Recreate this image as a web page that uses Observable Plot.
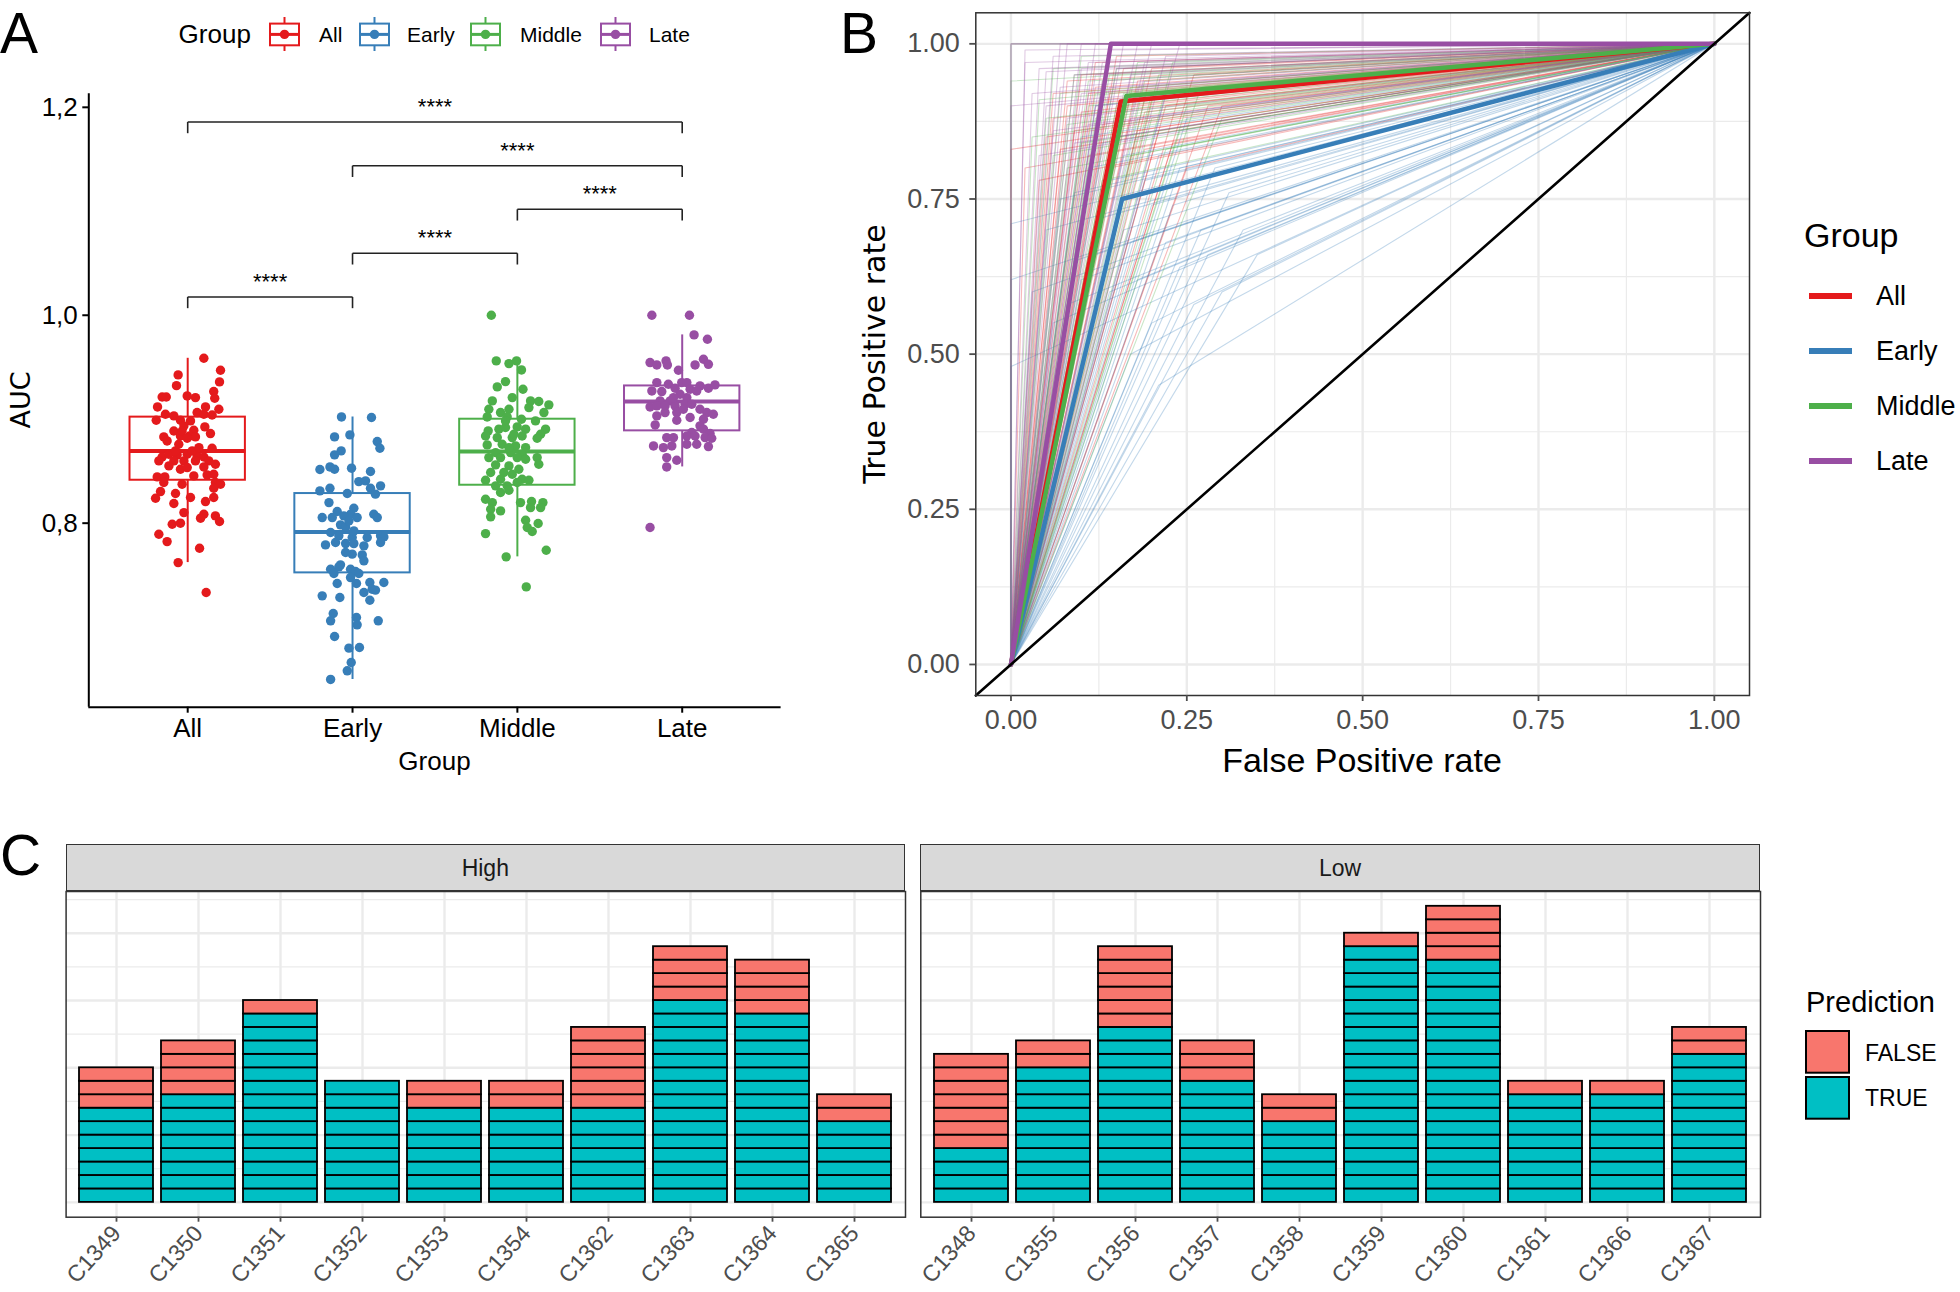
<!DOCTYPE html>
<html><head><meta charset="utf-8">
<script src="https://cdn.jsdelivr.net/npm/d3@7"></script>
<script src="https://cdn.jsdelivr.net/npm/@observablehq/plot@0.6"></script>
<style>
body{margin:0;background:#fff;}
#root{position:relative;width:1960px;height:1292px;overflow:hidden;font-family:"Liberation Sans",Arial,sans-serif;background:#fff;}
.t{position:absolute;white-space:nowrap;line-height:1;}
</style></head><body><div id="root"></div>
<script>
// ---------------- DATA ----------------
const groups = ["All","Early","Middle","Late"];
const groupColors = ["#E41A1C","#377EB8","#4DAF4A","#984EA3"];

// Panel A: AUC per model (jitter offsets in category units)
const aucAll = [0.9586,0.9471,0.9426,0.9359,0.9323,0.9266,0.9202,0.9214,0.9214,0.9224,
0.9208,0.9118,0.9118,0.9096,0.9064,0.9048,0.9032,0.9048,0.9041,0.8990,
0.8990,0.8984,0.8936,0.8926,0.8887,0.8894,0.8830,0.8839,0.8839,0.8830,
0.8862,0.8791,0.8721,0.8637,0.8663,0.8657,0.8663,0.8647,0.8637,0.8599,
0.8599,0.8599,0.8599,0.8599,0.8567,0.8519,0.8541,0.8445,0.8445,0.8455,
0.8464,0.8471,0.8391,0.8375,0.8391,0.8375,0.8336,0.8304,0.8285,0.8247,
0.8240,0.8247,0.8189,0.8208,0.8102,0.8086,0.8048,0.8070,0.8016,0.7990,
0.8000,0.7894,0.7823,0.7759,0.7621,0.7333,0.8887,0.8817,0.8695,0.8695,
0.8551,0.8727,0.8535,0.8759];
const jitAll = [0.098,0.199,-0.058,0.193,-0.068,0.158,0.164,-0.155,-0.130,-0.003,
0.047,-0.183,0.108,0.189,0.057,-0.135,-0.084,0.098,0.148,-0.191,
-0.044,0.017,-0.023,0.104,-0.084,0.037,-0.145,-0.044,0.011,0.047,
0.138,-0.125,0.148,-0.155,-0.114,-0.064,-0.003,0.057,0.098,-0.175,
-0.084,-0.023,0.047,0.128,0.168,-0.044,0.098,-0.185,-0.139,0.037,
0.118,0.158,-0.145,-0.034,0.168,0.199,0.158,-0.165,-0.074,0.017,
-0.195,0.158,-0.084,0.108,-0.023,0.098,0.078,0.168,0.193,-0.094,
-0.044,-0.175,-0.125,0.072,-0.058,0.112,-0.034,-0.003,0.027,-0.074,
-0.114,0.068,-0.003,-0.054];
const aucEarly = [0.9022,0.9016,0.8830,0.8849,0.8785,0.8721,0.8695,0.8657,0.8516,0.8541,
0.8519,0.8529,0.8497,0.8400,0.8407,0.8359,0.8336,0.8279,0.8311,0.8336,
0.8285,0.8198,0.8144,0.8112,0.8086,0.8054,0.8054,0.8070,0.8054,0.8086,
0.8054,0.7984,0.7964,0.7910,0.7878,0.7862,0.7862,0.7878,0.7868,0.7791,
0.7814,0.7804,0.7804,0.7782,0.7814,0.7702,0.7695,0.7638,0.7599,0.7557,
0.7580,0.7557,0.7535,0.7516,0.7516,0.7477,0.7420,0.7420,0.7429,0.7429,
0.7333,0.7365,0.7356,0.7301,0.7285,0.7259,0.7131,0.7061,0.7093,0.7022,
0.7061,0.6910,0.6798,0.6804,0.6660,0.6580,0.6497,0.8022,0.7926,0.7718];
const jitEarly = [-0.067,0.115,-0.109,-0.016,0.150,0.166,-0.069,-0.109,-0.198,-0.137,
-0.109,-0.006,0.109,0.038,0.079,0.170,0.109,0.139,-0.198,-0.137,
-0.032,-0.143,0.008,-0.093,-0.012,-0.184,-0.123,-0.053,0.028,0.129,
0.150,-0.073,-0.042,-0.133,-0.083,-0.002,0.089,0.170,0.190,-0.164,
-0.103,-0.042,0.008,0.069,0.170,-0.002,0.059,0.069,-0.073,-0.133,
-0.083,-0.012,0.018,-0.113,0.038,-0.012,-0.093,0.024,0.105,0.190,
0.069,0.119,0.139,-0.184,-0.077,0.105,-0.117,-0.133,0.024,0.028,
0.156,-0.109,-0.022,0.042,-0.008,-0.032,-0.133,-0.022,0.008,-0.042];
const aucMiddle = [1.000,0.9561,0.9535,0.9561,0.9474,0.9362,0.9311,0.9288,0.9176,0.9176,
0.9170,0.9138,0.9112,0.9096,0.9096,0.9064,0.9064,0.9022,0.9022,0.9000,
0.8984,0.8904,0.8888,0.8904,0.8920,0.8926,0.8904,0.8855,0.8839,0.8823,
0.8823,0.8839,0.8817,0.8753,0.8759,0.8743,0.8727,0.8679,0.8679,0.8663,
0.8631,0.8631,0.8631,0.8615,0.8631,0.8567,0.8561,0.8551,0.8487,0.8487,
0.8471,0.8413,0.8423,0.8423,0.8413,0.8359,0.8359,0.8391,0.8295,0.8317,
0.8230,0.8198,0.8198,0.8208,0.8198,0.8118,0.8134,0.8150,0.8150,0.8061,
0.8028,0.7997,0.7958,0.7920,0.7900,0.7740,0.7676,0.7387,0.9208,0.8984,
0.8855,0.8727,0.8519];
const jitMiddle = [-0.158,-0.128,-0.051,-0.005,0.025,-0.072,-0.122,0.034,-0.152,0.080,
0.130,0.191,0.070,-0.173,-0.051,-0.102,0.161,-0.183,-0.062,0.025,
0.110,0.171,-0.177,-0.112,-0.072,-0.001,0.050,0.141,-0.193,-0.122,
-0.031,0.029,0.120,-0.183,-0.092,-0.011,0.050,-0.132,-0.041,0.029,
-0.173,-0.102,-0.001,0.050,0.120,0.130,-0.132,-0.051,-0.162,-0.082,
-0.031,-0.193,-0.102,0.029,0.070,-0.132,-0.062,-0.001,-0.102,-0.051,
-0.193,-0.152,0.019,0.086,0.155,-0.102,-0.162,0.080,0.141,-0.162,
0.050,0.126,0.060,0.090,-0.193,0.175,-0.068,0.054,-0.031,-0.072,
-0.021,-0.051,0.009];
const aucLate = [1.000,1.000,0.9811,0.9769,0.9545,0.9522,0.9561,0.9522,0.9522,0.9577,
0.9528,0.9471,0.9352,0.9336,0.9352,0.9352,0.9320,0.9298,0.9330,0.9272,
0.9266,0.9298,0.9288,0.9272,0.9208,0.9176,0.9176,0.9118,0.9128,0.9128,
0.9144,0.9096,0.9064,0.9064,0.9032,0.9016,0.9064,0.9048,0.9000,0.8945,
0.8936,0.8904,0.8872,0.8862,0.8823,0.8823,0.8839,0.8839,0.8823,0.8817,
0.8743,0.8727,0.8743,0.8759,0.8759,0.8737,0.8631,0.8605,0.8541,0.7958,
0.9240,0.9208,0.9096,0.9128,0.9144,0.8990];
const jitLate = [-0.184,0.044,0.072,0.153,-0.195,-0.154,-0.098,-0.090,0.078,0.129,
0.159,-0.023,-0.154,-0.084,-0.003,0.028,0.108,0.159,0.199,-0.184,
-0.124,-0.043,0.048,0.088,0.028,-0.134,-0.073,-0.195,-0.154,-0.043,
0.018,0.108,-0.104,-0.033,-0.154,0.048,0.149,0.189,0.129,-0.164,
0.108,0.129,0.058,0.169,-0.094,-0.053,0.028,0.078,0.139,0.179,
-0.174,-0.114,-0.063,0.028,0.088,0.159,-0.094,-0.033,-0.094,-0.195,
-0.013,-0.053,0.007,-0.104,0.058,-0.033];

// Boxplot statistics per group
const boxQ1 = [0.8413,0.7522,0.8365,0.8888];
const boxMedian = [0.8695,0.7916,0.8690,0.9170];
const boxQ3 = [0.9020,0.8285,0.9000,0.9320];
const whiskerLo = [0.7621,0.6497,0.7676,0.8541];
const whiskerHi = [0.9586,0.9022,0.9561,0.9811];

// Pairwise comparisons
const compFrom = ["All","Early","Middle","Early","All"];
const compTo = ["Early","Middle","Late","Late","Late"];
const compY = [1.0176,1.0596,1.1019,1.1438,1.1859];
const compLabel = ["****","****","****","****","****"];

// Panel B: ROC operating points (FPR, TPR) per model
const rocFprAll = [0.02,0.05,0.08,0.10,0.12,0.14,0.16,0.18,0.20,0.22,0.06,0.09,0.11,0.13,0.15,0.17,0.19,0.21,0.24,0.26,0.04,0.07,0.10,0.12,0.14,0.16,0.18,0.20,0.23,0.28,0.08,0.13,0.15,0.11,0.00,0.17,0.25,0.30,0.06,0.19];
const rocTprAll = [0.80,0.85,0.90,0.95,0.93,0.92,0.90,0.94,0.96,0.90,0.88,0.86,0.82,0.87,0.85,0.88,0.83,0.86,0.92,0.95,0.78,0.83,0.89,0.97,0.80,0.96,0.86,0.91,0.84,0.90,0.94,0.91,0.98,0.92,0.83,0.92,0.80,0.90,0.92,0.89];
const rocFprEarly = [0,0,0,0.03,0.05,0.07,0.09,0.11,0.13,0.15,0.17,0.19,0.21,0.23,0.25,0.27,0.29,0.31,0.06,0.08,0.10,0.12,0.14,0.16,0.18,0.20,0.22,0.24,0.26,0.28,0.30,0.33,0.12,0.14,0.16,0.18,0.20,0.22,0.10,0.17,0.21,0.35,0.09,0.24,0.13];
const rocTprEarly = [0.48,0.62,0.71,0.60,0.70,0.75,0.65,0.80,0.72,0.85,0.68,0.78,0.82,0.74,0.88,0.70,0.80,0.76,0.55,0.58,0.62,0.66,0.60,0.70,0.62,0.55,0.68,0.64,0.58,0.66,0.60,0.70,0.90,0.78,0.82,0.88,0.74,0.92,0.85,0.50,0.45,0.66,0.76,0.80,0.84];
const rocFprMiddle = [0,0.03,0.05,0.07,0.09,0.11,0.13,0.15,0.17,0.19,0.21,0.23,0.06,0.08,0.10,0.12,0.14,0.16,0.18,0.20,0.22,0.25,0.27,0.04,0.10,0.12,0.14,0.16,0.18,0.20,0.08,0.13,0.17,0.30,0.00,0.11,0.15,0.24,0.06,0.19];
const rocTprMiddle = [1,0.85,0.88,0.92,0.95,0.90,0.94,0.96,0.93,0.91,0.95,0.97,0.82,0.87,0.84,0.88,0.86,0.89,0.85,0.88,0.83,0.90,0.93,0.91,0.98,0.92,0.95,0.92,0.97,0.92,0.80,0.78,0.82,0.88,0.94,0.94,0.90,0.86,0.96,0.94];
const rocFprLate = [0,0,0.05,0.02,0.04,0.06,0.08,0.10,0.12,0.14,0.16,0.18,0.20,0.07,0.09,0.11,0.13,0.15,0.03,0.05,0.08,0.10,0.12,0.06,0.14,0.17,0.19,0.22,0.09,0.04,0.11,0.13,0.16,0.02,0.07,0.10,0.12,0.18,0.24,0.00];
const rocTprLate = [1,1,0.955,0.97,0.96,0.98,1,1,1,0.99,1,1,1,0.93,0.95,0.97,0.94,0.96,0.92,0.90,0.88,0.92,0.90,0.86,0.93,0.95,0.97,0.98,0.84,0.82,0.87,0.97,0.91,0.99,1,0.96,0.95,0.93,1,0.90];
// Group mean ROC operating points
const meanFpr = [0.156,0.158,0.164,0.142];
const meanTpr = [0.907,0.750,0.916,1.000];
const refLine = [-0.05,1.05]; // y = x reference across the panel

// Panel C: counts of TRUE/FALSE predictions per sample
const highSamples = ["C1349","C1350","C1351","C1352","C1353","C1354","C1362","C1363","C1364","C1365"];
const highTrue = [7,8,14,9,7,7,7,15,14,6];
const highFalse = [3,4,1,0,2,2,6,4,4,2];
const lowSamples = ["C1348","C1355","C1356","C1357","C1358","C1359","C1360","C1361","C1366","C1367"];
const lowTrue = [4,10,13,9,6,19,18,8,8,11];
const lowFalse = [7,2,6,3,2,1,4,1,1,2];
const predLevels = ["FALSE","TRUE"];
const predColors = ["#F8766D","#00BFC4"];

// ---------------- helpers ----------------
const root = document.getElementById("root");
const FONT = "Liberation Sans, Arial, sans-serif";
function put(el, left, top) { el.style.position = "absolute"; el.style.left = left + "px"; el.style.top = top + "px"; root.appendChild(el); return el; }
function txt(s, x, y, size, o = {}) {
  const d = document.createElement("div");
  d.className = "t"; d.textContent = s;
  d.style.fontSize = size + "px";
  d.style.fontFamily = o.family || FONT;
  d.style.color = o.color || "#000";
  const tx = o.anchor === "left" ? "0" : "-50%";
  d.style.transform = `translate(${tx},-50%)` + (o.rotate ? ` rotate(${o.rotate}deg)` : "");
  d.style.transformOrigin = "50% 50%";
  put(d, x, y);
  return d;
}
const commaFmt = d => d3.format(".1f")(d).replace(".", ",");

// ---------------- Panel A ----------------
const aucSets = [aucAll, aucEarly, aucMiddle, aucLate];
const jitSets = [jitAll, jitEarly, jitMiddle, jitLate];
const pointsA = [];
groups.forEach((g, i) => aucSets[i].forEach((v, k) => pointsA.push({group: g, x: i + 1 + jitSets[i][k], y: v})));
const boxes = groups.map((g, i) => ({group: g, xi: i + 1, q1: boxQ1[i], med: boxMedian[i], q3: boxQ3[i], lo: whiskerLo[i], hi: whiskerHi[i]}));
const comps = compFrom.map((f, i) => ({x1: groups.indexOf(f) + 1, x2: groups.indexOf(compTo[i]) + 1, y: compY[i], label: compLabel[i]}));
const xDomA = [0.4, 4.6], yDomA = [0.623, 1.213];
const halfBox = 0.35, bracketTick = 0.0108;

const plotA = Plot.plot({
  width: 830, height: 730,
  marginLeft: 88.3, marginRight: 49.4, marginTop: 33.3, marginBottom: 83.3,
  style: {fontFamily: FONT, background: "transparent", overflow: "visible"},
  x: {domain: xDomA},
  y: {domain: yDomA},
  color: {domain: groups, range: groupColors},
  marks: [
    Plot.ruleX(boxes, {x: "xi", y1: "lo", y2: "hi", stroke: "group", strokeWidth: 2}),
    Plot.rect(boxes, {x1: d => d.xi - halfBox, x2: d => d.xi + halfBox, y1: "q1", y2: "q3", fill: "white", stroke: "group", strokeWidth: 2}),
    Plot.link(boxes, {x1: d => d.xi - halfBox, x2: d => d.xi + halfBox, y1: "med", y2: "med", stroke: "group", strokeWidth: 4}),
    Plot.dot(pointsA, {x: "x", y: "y", fill: "group", r: 4.7}),
    Plot.link(comps, {x1: "x1", x2: "x2", y1: "y", y2: "y", stroke: "#222", strokeWidth: 1.6}),
    Plot.link(comps, {x1: "x1", x2: "x1", y1: d => d.y - bracketTick, y2: "y", stroke: "#222", strokeWidth: 1.6}),
    Plot.link(comps, {x1: "x2", x2: "x2", y1: d => d.y - bracketTick, y2: "y", stroke: "#222", strokeWidth: 1.6}),
    Plot.text(comps, {x: d => (d.x1 + d.x2) / 2, y: "y", text: "label", fontSize: 22, lineAnchor: "bottom", dy: -8, fill: "#000"}),
    Plot.ruleX([xDomA[0]], {stroke: "#000", strokeWidth: 2}),
    Plot.ruleY([yDomA[0]], {stroke: "#000", strokeWidth: 2}),
    Plot.axisY({ticks: [0.8, 1.0, 1.2], tickFormat: commaFmt, tickSize: 6, tickPadding: 5, fontSize: 26, label: null, color: "#000", strokeWidth: 2}),
    Plot.axisX({ticks: [1, 2, 3, 4], tickFormat: i => groups[i - 1], tickSize: 6, tickPadding: 5, fontSize: 26, label: null, color: "#000", strokeWidth: 2})
  ]
});
put(plotA, 0, 60);
txt("AUC", 20, 400, 27, {rotate: -90, family: "DejaVu Sans"});
txt("Group", 434.5, 761, 26);

// Legend A (top)
txt("Group", 178.6, 34, 26, {anchor: "left"});
const keyXA = [269, 359, 470, 600], labXA = [319, 407, 520, 649];
groups.forEach((g, i) => {
  const c = groupColors[i];
  const s = d3.create("svg").attr("width", 31).attr("height", 35);
  s.append("line").attr("x1", 15.5).attr("x2", 15.5).attr("y1", 0).attr("y2", 34).attr("stroke", c).attr("stroke-width", 2);
  s.append("rect").attr("x", 1).attr("y", 6.6).attr("width", 29).attr("height", 21.7).attr("fill", "white").attr("stroke", c).attr("stroke-width", 2);
  s.append("line").attr("x1", 1).attr("x2", 30).attr("y1", 17.4).attr("y2", 17.4).attr("stroke", c).attr("stroke-width", 3);
  s.append("circle").attr("cx", 15.5).attr("cy", 17.4).attr("r", 4.7).attr("fill", c);
  put(s.node(), keyXA[i], 16.7);
  txt(g, labXA[i], 34, 21, {anchor: "left"});
});

// ---------------- Panel B ----------------
const fprSets = [rocFprAll, rocFprEarly, rocFprMiddle, rocFprLate];
const tprSets = [rocTprAll, rocTprEarly, rocTprMiddle, rocTprLate];
const thin = [];
groups.forEach((g, i) => fprSets[i].forEach((f, k) => {
  const id = g + k;
  thin.push({id, group: g, x: 0, y: 0}, {id, group: g, x: f, y: tprSets[i][k]}, {id, group: g, x: 1, y: 1});
}));
const mean = [];
groups.forEach((g, i) => mean.push({group: g, x: 0, y: 0}, {group: g, x: meanFpr[i], y: meanTpr[i]}, {group: g, x: 1, y: 1}));
const majorB = [0, 0.25, 0.5, 0.75, 1], minorB = [0.125, 0.375, 0.625, 0.875];

const plotB = Plot.plot({
  width: 940, height: 800,
  marginLeft: 125.3, marginRight: 41, marginTop: 12.3, marginBottom: 105,
  style: {fontFamily: FONT, background: "transparent", overflow: "visible"},
  x: {domain: refLine},
  y: {domain: refLine},
  color: {domain: groups, range: groupColors},
  marks: [
    Plot.ruleX(minorB, {stroke: "#EBEBEB", strokeWidth: 1.2}),
    Plot.ruleY(minorB, {stroke: "#EBEBEB", strokeWidth: 1.2}),
    Plot.ruleX(majorB, {stroke: "#EBEBEB", strokeWidth: 2.4}),
    Plot.ruleY(majorB, {stroke: "#EBEBEB", strokeWidth: 2.4}),
    Plot.line(thin, {x: "x", y: "y", z: "id", stroke: "group", strokeOpacity: 0.3, strokeWidth: 1.1}),
    Plot.line(mean, {x: "x", y: "y", z: "group", stroke: "group", strokeWidth: 4.5}),
    Plot.line(refLine, {x: d => d, y: d => d, stroke: "#000", strokeWidth: 2.6}),
    Plot.frame({stroke: "#333", strokeWidth: 1.5}),
    Plot.axisX({ticks: majorB, tickFormat: d3.format(".2f"), tickSize: 6, tickPadding: 8, fontSize: 27, label: null, color: "#4D4D4D", strokeWidth: 1.8}),
    Plot.axisY({ticks: majorB, tickFormat: d3.format(".2f"), tickSize: 6, tickPadding: 10, fontSize: 27, label: null, color: "#4D4D4D", strokeWidth: 1.8})
  ]
});
put(plotB, 850, 0);
txt("True Positive rate", 875, 353.7, 30, {rotate: -90, family: "DejaVu Sans"});
txt("False Positive rate", 1362, 760, 34);

// Legend B
txt("Group", 1804, 235, 34, {anchor: "left"});
const legYB = [296, 351, 406, 461];
groups.forEach((g, i) => {
  const s = d3.create("svg").attr("width", 44).attr("height", 8);
  s.append("line").attr("x1", 0).attr("x2", 43).attr("y1", 4).attr("y2", 4).attr("stroke", groupColors[i]).attr("stroke-width", 6);
  put(s.node(), 1809, legYB[i] - 4);
  txt(g, 1876, legYB[i], 27, {anchor: "left"});
});

// ---------------- Panel C ----------------
const yDomC = [-1.1, 23.1];
const majorC = [0, 5, 10, 15, 20], minorC = [2.5, 7.5, 12.5, 17.5, 22.5];
function facet(samples, trues, falses, o) {
  const rows = [];
  samples.forEach((s, i) => {
    for (let k = 0; k < trues[i]; k++) rows.push({sample: s, pred: "TRUE"});
    for (let k = 0; k < falses[i]; k++) rows.push({sample: s, pred: "FALSE"});
  });
  return Plot.plot({
    width: o.width, height: 452,
    marginLeft: o.ml, marginRight: o.mr, marginTop: 51, marginBottom: 75.3,
    style: {fontFamily: FONT, background: "transparent", overflow: "visible"},
    x: {domain: samples, paddingInner: 0.1, paddingOuter: 0.15},
    y: {domain: yDomC, axis: null},
    color: {domain: predLevels, range: predColors},
    marks: [
      Plot.ruleY(minorC, {stroke: "#EBEBEB", strokeWidth: 1.2}),
      Plot.ruleY(majorC, {stroke: "#EBEBEB", strokeWidth: 2.4}),
      Plot.tickX(samples, {x: d => d, stroke: "#EBEBEB", strokeWidth: 2.4}),
      Plot.barY(rows, Plot.stackY({x: "sample", y: () => 1, fill: "pred", stroke: "#000", strokeWidth: 1.8})),
      Plot.frame({stroke: "#333", strokeWidth: 1.5}),
      Plot.axisX({tickRotate: -48, tickSize: 5, tickPadding: 7, fontSize: 23, label: null, color: "#4D4D4D", strokeWidth: 1.8})
    ]
  });
}
put(facet(highSamples, highTrue, highFalse, {width: 910, ml: 65.6, mr: 5}), 0, 840);
put(facet(lowSamples, lowTrue, lowFalse, {width: 870, ml: 20.3, mr: 10}), 900, 840);

function strip(label, left, width) {
  const d = document.createElement("div");
  d.style.width = width + "px"; d.style.height = "47px"; d.style.boxSizing = "border-box";
  d.style.background = "#D9D9D9"; d.style.border = "1.5px solid #333";
  put(d, left, 844);
  txt(label, left + width / 2, 868, 23, {color: "#1A1A1A"});
}
strip("High", 65.6, 839.4);
strip("Low", 920.3, 839.7);

// Legend C
txt("Prediction", 1806, 1002, 29, {anchor: "left"});
const legYC = [1031, 1076.7];
predLevels.forEach((p, i) => {
  const s = d3.create("svg").attr("width", 46).attr("height", 45);
  s.append("rect").attr("x", 1).attr("y", 1).attr("width", 43).attr("height", 41.7).attr("fill", predColors[i]).attr("stroke", "#000").attr("stroke-width", 2);
  put(s.node(), 1805, legYC[i] - 1);
  txt(p, 1865, legYC[i] + 21.5, 23, {anchor: "left"});
});

// Panel letters
txt("A", 0, 33, 57, {anchor: "left"});
txt("B", 840, 33, 57, {anchor: "left"});
txt("C", 0, 855, 57, {anchor: "left"});
</script></body></html>
